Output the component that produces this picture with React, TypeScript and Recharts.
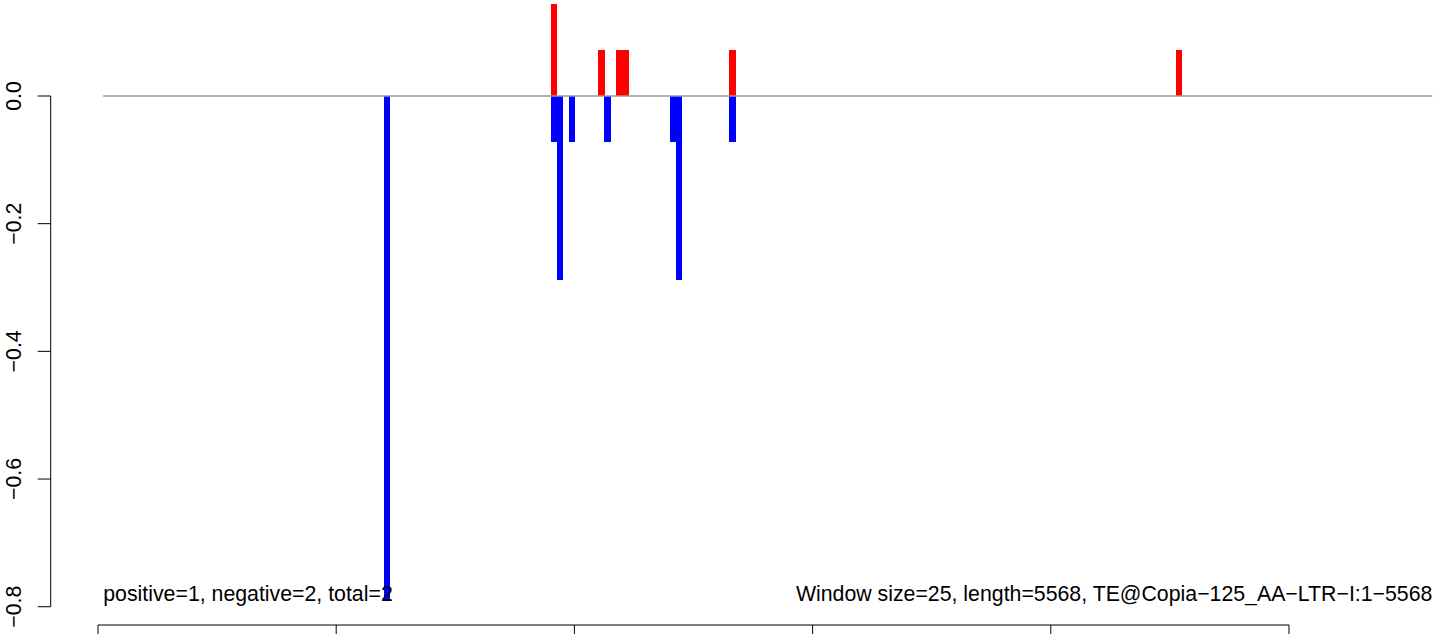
import { BarChart, Bar, XAxis, YAxis, ReferenceLine, ReferenceDot } from 'recharts';

// window centres (bp) and scores
const windowPos = [1212.5, 1912.5, 1937.5, 1987.5, 2112.5, 2137.5, 2187.5, 2212.5, 2412.5, 2437.5, 2662.5, 4537.5];
const plusVals = [0, 0.144, 0, 0, 0.072, 0, 0.072, 0.072, 0, 0, 0.072, 0.072];
const minusVals = [-0.789, -0.072, -0.288, -0.072, 0, -0.072, 0, 0, -0.072, -0.288, -0.072, 0];

const xTicks = [0, 1000, 2000, 3000, 4000, 5000];
const yTicks = [-0.8, -0.6, -0.4, -0.2, 0];
const yTickLabels = ['\u22120.8', '\u22120.6', '\u22120.4', '\u22120.2', '0.0'];

const seqStart = 22;
const seqEnd = 5602;
const leftNote = 'positive=1, negative=2, total=2';
const rightNote = 'Window size=25, length=5568, TE@Copia\u2212125_AA\u2212LTR\u2212I:1\u22125568';

const data = windowPos.map((pos, i) => ({ pos, plus: plusVals[i], minus: minusVals[i] }));

const FONT = '"Liberation Sans", Arial, Helvetica, sans-serif';
const FS = 21.3;

function Stick(props: any) {
  const { x, y, width, height, fill } = props;
  if (!height) return null;
  const top = Math.min(y, y + height);
  const h = Math.abs(height);
  return <rect x={x + width / 2 - 3} y={top} width={6.4} height={h} fill={fill} shapeRendering="crispEdges" />;
}

function YTick(props: any) {
  const { y, payload } = props;
  const idx = yTicks.indexOf(payload.value);
  const label = idx >= 0 ? yTickLabels[idx] : String(payload.value);
  return (
    <text
      x={21}
      y={y}
      transform={`rotate(-90, 21, ${y})`}
      textAnchor="middle"
      fontSize={FS}
      fontFamily={FONT}
      fill="#000"
    >
      {label}
    </text>
  );
}

export default function App() {
  return (
    <div style={{ position: 'absolute', left: 0, top: 0, background: '#fff' }}>
      <BarChart
        width={1444}
        height={634}
        data={data}
        stackOffset="sign"
        margin={{ top: 0, right: 0, bottom: 0, left: 0 }}
      >
        <XAxis
          dataKey="pos"
          type="number"
          domain={[-198.57, 5650.7]}
          allowDataOverflow
          ticks={xTicks}
          tickFormatter={() => ''}
          axisLine={false}
          tickLine={{ stroke: '#000', strokeWidth: 1 }}
          tickSize={9}
          height={9}
        />
        <YAxis
          type="number"
          domain={[-0.82863, 0.15038]}
          allowDataOverflow
          ticks={yTicks}
          axisLine={false}
          tickLine={{ stroke: '#000', strokeWidth: 1 }}
          tickSize={13}
          tick={<YTick />}
          width={50.7}
        />
        <Bar dataKey="plus" stackId="s" fill="#ff0000" shape={<Stick />} isAnimationActive={false} />
        <Bar dataKey="minus" stackId="s" fill="#0000ff" shape={<Stick />} isAnimationActive={false} />
        <ReferenceLine
          segment={[{ x: seqStart, y: 0 }, { x: seqEnd, y: 0 }]}
          stroke="#999999"
          strokeWidth={1.5}
          ifOverflow="visible"
        />
        <ReferenceLine
          segment={[{ x: -198.57, y: -0.8 }, { x: -198.57, y: 0 }]}
          stroke="#000"
          strokeWidth={1}
          ifOverflow="visible"
        />
        <ReferenceLine
          segment={[{ x: 0, y: -0.82863 }, { x: 5000, y: -0.82863 }]}
          stroke="#000"
          strokeWidth={1}
          ifOverflow="visible"
        />
        <ReferenceDot
          x={seqStart}
          y={-0.791}
          r={0}
          fill="none"
          stroke="none"
          ifOverflow="visible"
          label={(p: any) => (
            <text x={p.viewBox.x} y={p.viewBox.y} textAnchor="start" fontSize={FS} fontFamily={FONT} fill="#000">
              {leftNote}
            </text>
          )}
        />
        <ReferenceDot
          x={seqEnd}
          y={-0.791}
          r={0}
          fill="none"
          stroke="none"
          ifOverflow="visible"
          label={(p: any) => (
            <text x={p.viewBox.x} y={p.viewBox.y} textAnchor="end" fontSize={FS} fontFamily={FONT} fill="#000">
              {rightNote}
            </text>
          )}
        />
      </BarChart>
    </div>
  );
}
